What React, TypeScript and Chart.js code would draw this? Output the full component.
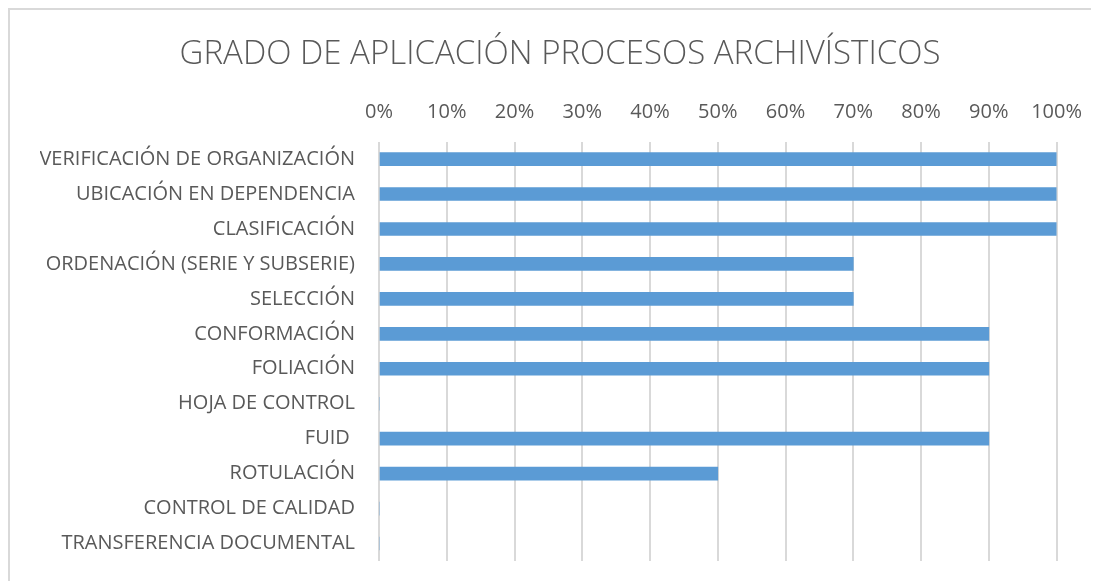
import React, { useEffect, useRef } from "react";
import { Chart, registerables } from "chart.js";

Chart.register(...registerables);

const categories = [
  "VERIFICACIÓN DE ORGANIZACIÓN",
  "UBICACIÓN EN DEPENDENCIA",
  "CLASIFICACIÓN",
  "ORDENACIÓN (SERIE Y SUBSERIE)",
  "SELECCIÓN",
  "CONFORMACIÓN",
  "FOLIACIÓN",
  "HOJA DE CONTROL",
  "FUID ",
  "ROTULACIÓN",
  "CONTROL DE CALIDAD",
  "TRANSFERENCIA DOCUMENTAL",
];
const values = [100, 100, 100, 70, 70, 90, 90, 0, 90, 50, 0, 0];
const titleText = "GRADO DE APLICACIÓN PROCESOS ARCHIVÍSTICOS";

const FONT = "'Open Sans', 'Liberation Sans', sans-serif";
const TEXT = "#595959";

export default function App() {
  const ref = useRef<HTMLCanvasElement | null>(null);
  useEffect(() => {
    if (!ref.current) return;
    const chart = new Chart(ref.current, {
      type: "bar",
      data: {
        labels: categories,
        datasets: [
          {
            data: values,
            backgroundColor: "#5b9bd5",
            borderWidth: 0,
            barThickness: 13,
          },
        ],
      },
      options: {
        indexAxis: "y",
        animation: false,
        responsive: false,
        maintainAspectRatio: false,
        layout: { padding: { top: 16, left: 30, right: 19, bottom: 20 } },
        plugins: {
          legend: { display: false },
          tooltip: { enabled: false },
          title: {
            display: true,
            text: titleText,
            color: TEXT,
            font: { family: FONT, size: 33, weight: "300" as any },
            padding: { top: 9, bottom: 10 },
          },
        },
        scales: {
          x: {
            position: "top",
            min: 0,
            max: 100,
            ticks: {
              stepSize: 10,
              color: TEXT,
              font: { family: FONT, size: 20 },
              padding: 17,
              callback: (v: any) => v + "%",
            },
            grid: { color: "#d9d9d9", lineWidth: 2, drawTicks: false },
            border: { display: false },
            afterFit: (s: any) => {
              s.height = 57;
            },
          },
          y: {
            ticks: {
              color: TEXT,
              font: { family: FONT, size: 20 },
              padding: 0,
              autoSkip: false,
            },
            grid: {
              display: true,
              drawOnChartArea: false,
              drawTicks: true,
              tickLength: 24,
              tickColor: "rgba(0,0,0,0)",
              color: "rgba(0,0,0,0)",
            },
            border: { display: false },
            afterFit: (s: any) => {
              s.width = 339;
            },
          },
        },
      },
    });
    return () => chart.destroy();
  }, []);
  return (
    <div
      style={{
        borderLeft: "2px solid #d9d9d9",
        borderTop: "2px solid #d9d9d9",
        width: 1089,
        height: 571,
        overflow: "hidden",
      }}
    >
      <canvas ref={ref} width={1089} height={571} style={{ display: "block" }} />
    </div>
  );
}
